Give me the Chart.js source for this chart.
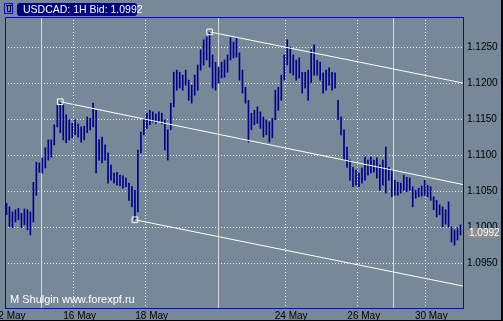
<!DOCTYPE html>
<html>
<head>
<meta charset="utf-8">
<script src="https://cdn.jsdelivr.net/npm/chart.js@4.4.1/dist/chart.umd.min.js"></script>
<style>
  html, body { margin: 0; padding: 0; background: #778899; }
  #wrap { width: 503px; height: 321px; }
</style>
</head>
<body>
<div id="wrap"><canvas id="quoteChart" width="503" height="321"></canvas></div>
<script>
// quote header
const symbol = 'USDCAD';
const timeframe = '1H';
const lastBid = 1.0992;
const watermark = 'M Shulgin www.forexpf.ru';

// hourly bars (index = bar number)
const barHigh = [
  1.1033, 1.1028, 1.1021, 1.1024, 1.1026, 1.1019, 1.1025, 1.1024, 1.1021, 1.1062,
  1.1090, 1.1089, 1.1096, 1.1110, 1.1121, 1.1121, 1.1142, 1.1169, 1.1174, 1.1172,
  1.1156, 1.1149, 1.1144, 1.1149, 1.1143, 1.1139, 1.1140, 1.1153, 1.1151, 1.1172,
  1.1162, 1.1121, 1.1125, 1.1114, 1.1103, 1.1086, 1.1075, 1.1076, 1.1072, 1.1071,
  1.1068, 1.1061, 1.1056, 1.1051, 1.1107, 1.1132, 1.1151, 1.1158, 1.1162, 1.1160,
  1.1157, 1.1160, 1.1158, 1.1149, 1.1135, 1.1172, 1.1215, 1.1218, 1.1215, 1.1211,
  1.1218, 1.1204, 1.1197, 1.1211, 1.1225, 1.1246, 1.1260, 1.1264, 1.1271, 1.1239,
  1.1229, 1.1222, 1.1229, 1.1232, 1.1239, 1.1263, 1.1257, 1.1263, 1.1242, 1.1218,
  1.1194, 1.1176, 1.1158, 1.1162, 1.1167, 1.1160, 1.1153, 1.1149, 1.1146, 1.1151,
  1.1190, 1.1194, 1.1211, 1.1239, 1.1260, 1.1250, 1.1239, 1.1232, 1.1235, 1.1215,
  1.1215, 1.1218, 1.1246, 1.1253, 1.1232, 1.1229, 1.1214, 1.1218, 1.1221, 1.1215,
  1.1214, 1.1176, 1.1153, 1.1135, 1.1111, 1.1093, 1.1083, 1.1079, 1.1075, 1.1082,
  1.1097, 1.1093, 1.1097, 1.1093, 1.1096, 1.1086, 1.1093, 1.1111, 1.1083, 1.1079,
  1.1065, 1.1062, 1.1061, 1.1072, 1.1069, 1.1068, 1.1056, 1.1051, 1.1054, 1.1057,
  1.1065, 1.1058, 1.1056, 1.1042, 1.1037, 1.1031, 1.1028, 1.1024, 1.1035, 1.1000,
  1.0996, 1.0999, 1.1003
];
const barLow = [
  1.1017, 1.1001, 1.0999, 1.1007, 1.1010, 1.0999, 1.1003, 1.0996, 1.0989, 1.1007,
  1.1044, 1.1076, 1.1075, 1.1082, 1.1093, 1.1097, 1.1114, 1.1139, 1.1131, 1.1121,
  1.1117, 1.1121, 1.1124, 1.1128, 1.1125, 1.1118, 1.1121, 1.1131, 1.1135, 1.1139,
  1.1075, 1.1093, 1.1089, 1.1093, 1.1061, 1.1065, 1.1061, 1.1058, 1.1057, 1.1054,
  1.1056, 1.1037, 1.1028, 1.1010, 1.1021, 1.1103, 1.1128, 1.1137, 1.1142, 1.1146,
  1.1144, 1.1147, 1.1143, 1.1107, 1.1093, 1.1135, 1.1167, 1.1190, 1.1193, 1.1190,
  1.1197, 1.1176, 1.1172, 1.1183, 1.1190, 1.1218, 1.1225, 1.1232, 1.1222, 1.1193,
  1.1190, 1.1200, 1.1207, 1.1208, 1.1215, 1.1232, 1.1235, 1.1236, 1.1204, 1.1186,
  1.1172, 1.1118, 1.1135, 1.1142, 1.1144, 1.1137, 1.1125, 1.1128, 1.1118, 1.1124,
  1.1149, 1.1162, 1.1176, 1.1204, 1.1225, 1.1214, 1.1211, 1.1204, 1.1207, 1.1186,
  1.1193, 1.1176, 1.1200, 1.1211, 1.1211, 1.1204, 1.1186, 1.1190, 1.1197, 1.1190,
  1.1193, 1.1149, 1.1128, 1.1093, 1.1083, 1.1065, 1.1056, 1.1058, 1.1056, 1.1061,
  1.1065, 1.1072, 1.1075, 1.1076, 1.1068, 1.1051, 1.1058, 1.1047, 1.1065, 1.1042,
  1.1044, 1.1044, 1.1047, 1.1051, 1.1049, 1.1051, 1.1028, 1.1040, 1.1042, 1.1043,
  1.1044, 1.1042, 1.1037, 1.1024, 1.1014, 1.1017, 1.1000, 1.1004, 1.1000, 1.0979,
  1.0975, 1.0982, 1.0989
];

// axis ticks
const priceTicks = [1.0950, 1.1000, 1.1050, 1.1100, 1.1150, 1.1200, 1.1250];
const dateLabels = ['2 May', '16 May', '18 May', '24 May', '26 May', '30 May'];
const dateBars = [-0.17, 22.5, 46.6, 93.3, 117.6, 140.2];
const sessionBreaks = [11.5, 70.8, 129.5];

// channel lines: anchor bar + price, price at right edge
const channelFrom = [68, 18, 43];
const channelFromPrice = [1.1271, 1.1174, 1.1010];
const channelToPrice = [1.1200, 1.1059, 1.0918];

const xMin = -0.5, xMax = 152.83;
const yMin = 1.08875, yMax = 1.12917;

const bg = '#778899';
const gridColor = 'rgba(255,255,255,0.85)';
const fontFamily = '"Liberation Sans", Arial, sans-serif';

const bars = barHigh.map((h, i) => ({ x: i, y: [barLow[i], h] }));

const channels = channelFrom.map((b, k) => ({
  type: 'line',
  data: [{ x: b, y: channelFromPrice[k] }, { x: xMax, y: channelToPrice[k] }],
  borderColor: '#ffffff',
  borderWidth: 1,
  pointStyle: 'rect',
  pointRadius: [4, 0],
  pointBorderColor: '#ffffff',
  pointBackgroundColor: 'rgba(0,0,0,0)',
  pointBorderWidth: 1,
  order: 1
}));

const mtPlugin = {
  id: 'mtLook',
  beforeDraw(chart) {
    const c = chart.ctx;
    c.save();
    c.fillStyle = bg;
    c.fillRect(0, 0, chart.width, chart.height);
    c.restore();
  },
  beforeDatasetsDraw(chart) {
    const c = chart.ctx, a = chart.chartArea, xs = chart.scales.x;
    c.save();
    c.strokeStyle = '#d9d9d9';
    c.lineWidth = 1;
    sessionBreaks.forEach(v => {
      const px = Math.round(xs.getPixelForValue(v)) + 0.5;
      c.beginPath();
      c.moveTo(px, a.top);
      c.lineTo(px, a.bottom);
      c.stroke();
    });
    c.restore();
  },
  afterDraw(chart) {
    const c = chart.ctx, a = chart.chartArea, ys = chart.scales.y;
    c.save();
    // chart frame
    c.strokeStyle = '#0000ff';
    c.lineWidth = 1;
    c.strokeRect(a.left + 0.5, a.top + 0.5, a.right - a.left, a.bottom - a.top);

    // header icon
    c.strokeStyle = '#0000ff';
    c.strokeRect(4.5, 3.5, 8, 10);
    c.strokeStyle = '#000000';
    c.beginPath();
    c.moveTo(7.5, 5); c.lineTo(7.5, 11.5); c.lineTo(10.5, 11.5); c.lineTo(10.5, 5);
    c.moveTo(6, 5.5); c.lineTo(12, 5.5);
    c.stroke();

    // header box
    const bx = 17, by = 3, bw = 120, bh = 13, r = 3;
    c.fillStyle = '#000080';
    c.beginPath();
    c.moveTo(bx + r, by);
    c.lineTo(bx + bw - r, by); c.quadraticCurveTo(bx + bw, by, bx + bw, by + r);
    c.lineTo(bx + bw, by + bh - r); c.quadraticCurveTo(bx + bw, by + bh, bx + bw - r, by + bh);
    c.lineTo(bx + r, by + bh); c.quadraticCurveTo(bx, by + bh, bx, by + bh - r);
    c.lineTo(bx, by + r); c.quadraticCurveTo(bx, by, bx + r, by);
    c.fill();
    c.fillStyle = '#ffffff';
    c.font = '10.5px ' + fontFamily;
    c.textBaseline = 'alphabetic';
    c.textAlign = 'left';
    c.fillText(symbol + ': ' + timeframe + ' Bid: ' + lastBid.toFixed(4), 23, 13);

    // watermark
    c.font = '11px ' + fontFamily;
    c.fillText(watermark, 10, 303);

    // last price tag
    const py = Math.round(ys.getPixelForValue(lastBid));
    c.fillStyle = '#8f8f8f';
    c.beginPath();
    c.moveTo(a.right + 2, py);
    c.lineTo(a.right + 7, py - 5);
    c.lineTo(497, py - 5);
    c.lineTo(497, py + 5);
    c.lineTo(a.right + 7, py + 5);
    c.closePath();
    c.fill();
    c.fillStyle = '#ffffff';
    c.font = '10px ' + fontFamily;
    c.textBaseline = 'middle';
    c.fillText(lastBid.toFixed(4), 469, py + 0.5);

    // window edges
    c.fillStyle = '#000000';
    c.fillRect(0, chart.height - 1, chart.width, 1);
    c.fillRect(chart.width - 2, 0, 2, chart.height);
    c.restore();
  }
};

new Chart(document.getElementById('quoteChart').getContext('2d'), {
  type: 'bar',
  data: {
    datasets: [
      ...channels,
      {
        label: symbol,
        data: bars,
        backgroundColor: '#000090',
        borderWidth: 0,
        barThickness: 1,
        grouped: false,
        order: 2
      }
    ]
  },
  options: {
    responsive: false,
    animation: false,
    devicePixelRatio: 1,
    layout: { padding: { left: 3, top: 17, right: 0, bottom: 0 } },
    plugins: {
      legend: { display: false },
      tooltip: { enabled: false },
      title: { display: false }
    },
    scales: {
      x: {
        type: 'linear',
        min: xMin,
        max: xMax,
        offset: false,
        grid: {
          color: ctx => ctx.index === 0 ? 'rgba(0,0,0,0)' : gridColor,
          drawTicks: false,
          offset: false
        },
        border: { display: false, dash: [1, 2] },
        afterBuildTicks: s => { s.ticks = dateBars.map(v => ({ value: v })); },
        afterFit: s => { s.height = 13; s.paddingLeft = 0; s.paddingRight = 0; },
        ticks: {
          autoSkip: false,
          maxRotation: 0,
          minRotation: 0,
          labelOffset: 6,
          padding: 2,
          color: '#000000',
          font: { family: fontFamily, size: 10 },
          callback: (v, i) => dateLabels[i]
        }
      },
      y: {
        position: 'right',
        min: yMin,
        max: yMax,
        grid: { color: gridColor, drawTicks: false },
        border: { display: false, dash: [1, 2] },
        afterBuildTicks: s => { s.ticks = priceTicks.map(v => ({ value: v })); },
        afterFit: s => { s.width = 40; s.paddingTop = 0; s.paddingBottom = 0; },
        ticks: {
          padding: 4,
          color: '#000000',
          font: { family: fontFamily, size: 10 },
          callback: v => v.toFixed(4)
        }
      }
    }
  },
  plugins: [mtPlugin]
});
</script>
</body>
</html>
